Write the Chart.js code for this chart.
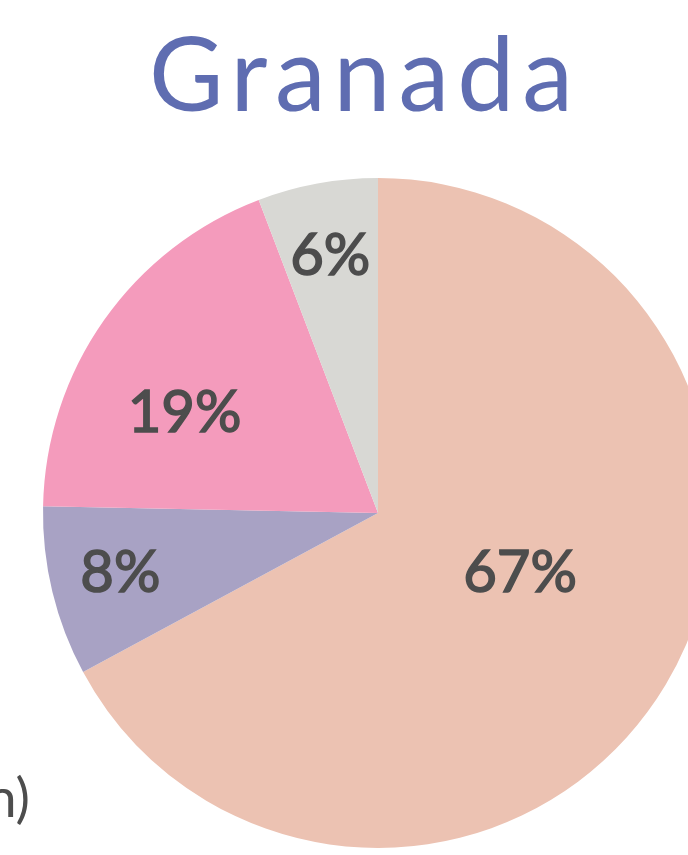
<!DOCTYPE html>
<html>
<head>
<meta charset="utf-8">
<script src="https://cdn.jsdelivr.net/npm/chart.js@4/dist/chart.umd.min.js"></script>
<style>
    html, body { margin: 0; padding: 0; background: #fff; overflow: hidden; }
    body { width: 688px; height: 855px; position: relative; }
    #title {
        position: absolute; left: 0; top: 21px; width: 730px;
        text-align: center; font-family: Lato, sans-serif; font-size: 102px;
        line-height: 1; color: #5F6DB1; letter-spacing: 8px;
    }
    #note {
        position: absolute; right: 658px; top: 770px; white-space: nowrap;
        font-family: Lato, sans-serif; font-size: 54px; line-height: 1; color: #4D4D4D;
    }
    #wrap { position: absolute; left: 0; top: 178px; width: 756px; height: 670px; }
</style>
</head>
<body>
<div id="title">Granada</div>
<div id="note">n)</div>
<div id="wrap"><canvas id="pieChart"></canvas></div>
<script>
        // Slice data (clockwise from 12 o'clock)
        const categories = ['A', 'B', 'C', 'D'];
        const shares = [67.2, 8.2, 18.9, 5.8];
        const sliceColors = ['#ECC2B2', '#A8A2C4', '#F49BBC', '#D8D8D4'];

        // where each percentage sits: fraction of radius, angle nudge (degrees)
        const labelSpots = [[0.46, -8], [0.79, 0.3], [0.65, -7.8], [0.78, -0.1]];

        const pctLabels = {
            id: 'pctLabels',
            afterDatasetsDraw(chart) {
                const ctx = chart.ctx;
                const arcs = chart.getDatasetMeta(0).data;
                ctx.save();
                ctx.font = '58px Lato, sans-serif';
                ctx.fillStyle = '#4D4D4D';
                ctx.strokeStyle = '#4D4D4D';
                ctx.lineWidth = 1.6;
                ctx.textAlign = 'center';
                ctx.textBaseline = 'middle';
                arcs.forEach((arc, i) => {
                    const p = arc.getProps(['x', 'y', 'startAngle', 'endAngle', 'outerRadius'], true);
                    const a = (p.startAngle + p.endAngle) / 2 + labelSpots[i][1] * Math.PI / 180;
                    const r = p.outerRadius * labelSpots[i][0];
                    const txt = Math.round(shares[i]) + '%';
                    const x = p.x + Math.cos(a) * r, y = p.y + Math.sin(a) * r;
                    ctx.fillText(txt, x, y);
                    ctx.strokeText(txt, x, y);
                });
                ctx.restore();
            }
        };

        new Chart(document.getElementById('pieChart'), {
            type: 'pie',
            data: {
                labels: categories,
                datasets: [{
                    data: shares,
                    backgroundColor: sliceColors,
                    borderWidth: 0
                }]
            },
            options: {
                responsive: true,
                maintainAspectRatio: false,
                animation: false,
                layout: { padding: 0 },
                plugins: {
                    legend: { display: false },
                    tooltip: { enabled: false }
                }
            },
            plugins: [pctLabels]
        });
</script>
</body>
</html>
